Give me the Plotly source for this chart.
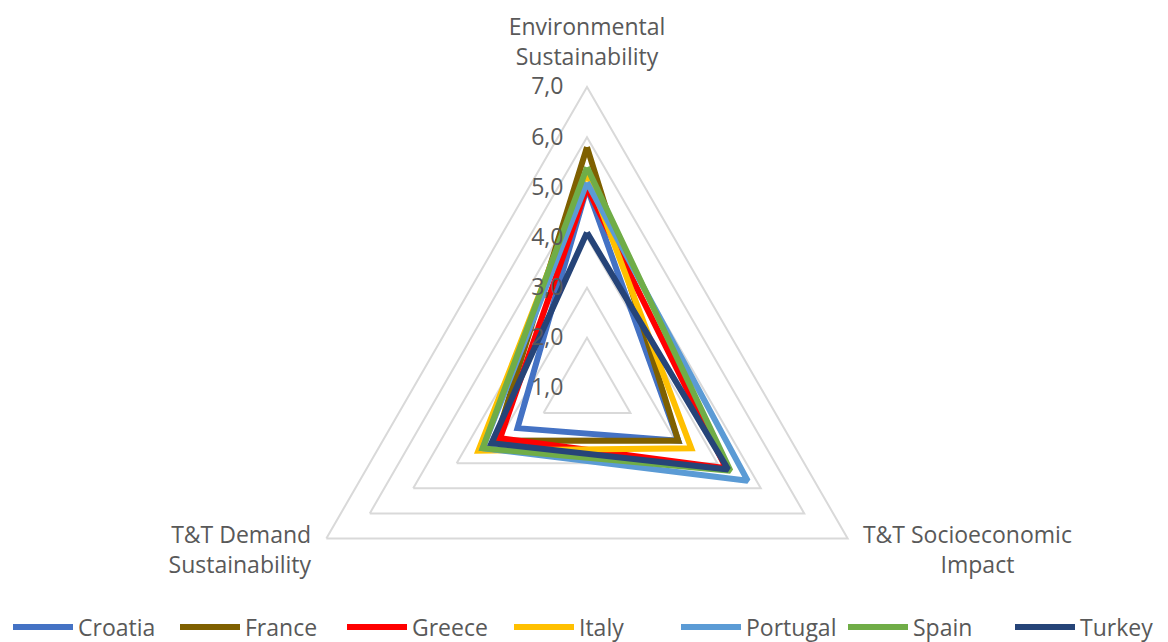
import plotly.graph_objects as go

categories = ["Environmental Sustainability", "T&T Socioeconomic Impact", "T&T Demand Sustainability"]
category_labels = [
    "Environmental<br>Sustainability",
    "T&T Socioeconomic<br>" + "&nbsp;" * 13 + "Impact<br>&nbsp;<br>&nbsp;",
    "T&T Demand<br>Sustainability<br>&nbsp;<br>&nbsp;",
]
countries = ["Croatia", "France", "Greece", "Italy", "Portugal", "Spain", "Turkey"]
croatia = [5.0, 3.1, 2.6]
france = [5.8, 3.1, 3.1]
greece = [5.0, 4.2, 3.0]
italy = [5.3, 3.4, 3.5]
portugal = [5.1, 4.7, 3.4]
spain = [5.4, 4.3, 3.4]
turkey = [4.1, 4.25, 3.2]
series = [croatia, france, greece, italy, portugal, spain, turkey]
colors = ["#4472C4", "#7F6000", "#FF0000", "#FFC000", "#5B9BD5", "#70AD47", "#264478"]
tick_vals = [1, 2, 3, 4, 5, 6, 7]
tick_text = ["1,0", "2,0", "3,0", "4,0", "5,0", "6,0", "7,0"]

# page has an 8px body margin; target positions are given in page pixels
OFF = 8
W, H = 1168, 700
cx, cy, R = 587 - OFF, 388 - OFF, 301

fig = go.Figure()
for name, vals, col in zip(countries, series, colors):
    fig.add_trace(go.Scatterpolar(
        r=vals + vals[:1],
        theta=categories + categories[:1],
        mode="lines",
        name=name,
        line=dict(color=col, width=6),
        hoverinfo="r+theta+name",
    ))

font = "Open Sans"
fig.update_layout(
    width=W, height=H,
    margin=dict(l=0, r=0, t=0, b=0),
    paper_bgcolor="white",
    plot_bgcolor="white",
    font=dict(family=font, color="#595959", size=20),
    polar=dict(
        domain=dict(x=[(cx - R) / W, (cx + R) / W], y=[1 - (cy + R) / H, 1 - (cy - R) / H]),
        gridshape="linear",
        bgcolor="white",
        radialaxis=dict(
            range=[1, 7], tickvals=tick_vals, ticktext=tick_text,
            angle=90, side="counterclockwise", showline=False,
            ticks="outside", ticklen=15, tickcolor="rgba(0,0,0,0)",
            tickangle=90,
            gridcolor="#D9D9D9", gridwidth=2,
            tickfont=dict(size=23, color="#595959", family=font),
        ),
        angularaxis=dict(
            rotation=90, direction="clockwise", showgrid=False,
            tickmode="array", tickvals=categories, ticktext=category_labels,
            ticks="outside", ticklen=12, tickcolor="rgba(0,0,0,0)",
            showline=True, linecolor="#D9D9D9", linewidth=2,
            tickfont=dict(size=23, color="#595959", family=font),
        ),
    ),
    legend=dict(
        orientation="h", x=0, xanchor="left", y=1 - (627 - OFF) / H, yanchor="middle",
        font=dict(size=23, color="#595959", family=font),
        itemwidth=60, entrywidth=92, entrywidthmode="pixels",
    ),
)

fig.write_html("out.html")
